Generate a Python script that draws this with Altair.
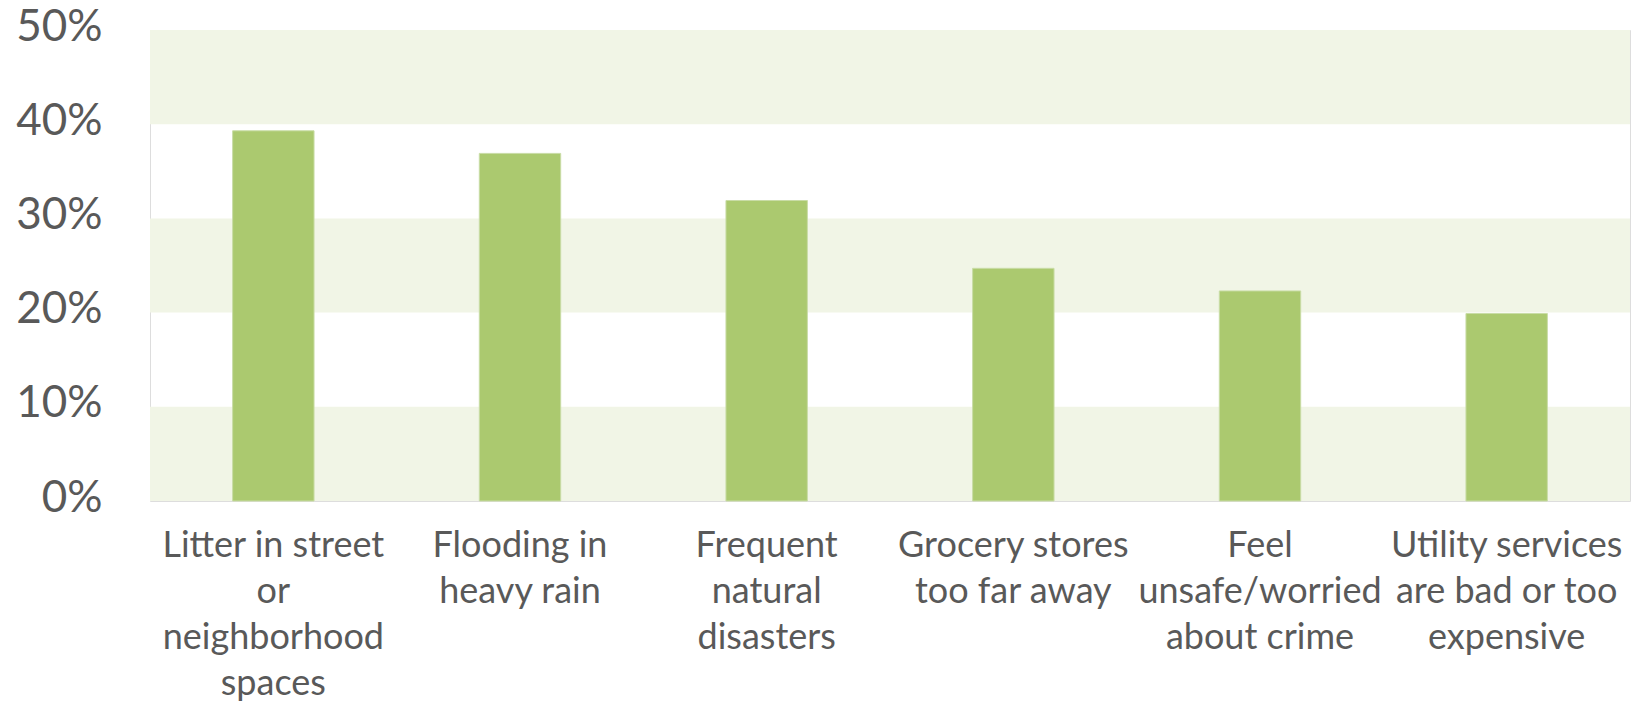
import altair as alt
import pandas as pd

categories = [
    "Litter in street\nor\nneighborhood\nspaces",
    "Flooding in\nheavy rain",
    "Frequent\nnatural\ndisasters",
    "Grocery stores\ntoo far away",
    "Feel\nunsafe/worried\nabout crime",
    "Utility services\nare bad or too\nexpensive",
]
values = [39.3, 36.9, 31.9, 24.7, 22.3, 19.9]

band_lo = [0, 20, 40]
band_hi = [10, 30, 50]

df = pd.DataFrame({"cat": categories, "val": values})
bands = pd.DataFrame({"lo": band_lo, "hi": band_hi})

TEXT = "#595959"
FONT = "Lato"

yscale = alt.Scale(domain=[0, 50], nice=False)

band_layer = alt.Chart(bands).mark_rect(color="#F1F5E6").encode(
    x=alt.value(0),
    x2=alt.value("width"),
    y=alt.Y("lo:Q", scale=yscale),
    y2="hi:Q",
)

bars = alt.Chart(df).mark_bar(color="#ABC96F", stroke="#C9DCA6", strokeWidth=1).encode(
    x=alt.X(
        "cat:N",
        sort=categories,
        scale=alt.Scale(paddingInner=0.67, paddingOuter=0.335),
        axis=alt.Axis(
            title=None,
            labelAngle=0,
            labelExpr="split(datum.value, '\\n')",
            labelFont=FONT,
            labelFontSize=36,
            labelColor=TEXT,
            labelLineHeight=46,
            labelPadding=27,
            labelBaseline="top",
            labelOverlap=False,
            labelLimit=400,
            ticks=False,
            domain=False,
            grid=False,
        ),
    ),
    y=alt.Y(
        "val:Q",
        scale=yscale,
        axis=alt.Axis(
            title=None,
            values=[0, 10, 20, 30, 40, 50],
            labelExpr="datum.value + '%'",
            labelFont=FONT,
            labelFontSize=44,
            labelColor=TEXT,
            labelPadding=48,
            labelOffset=-3,
            ticks=False,
            domain=False,
            grid=False,
        ),
    ),
)

chart = (
    alt.layer(band_layer, bars)
    .properties(
        width=1480,
        height=471,
        autosize=alt.AutoSizeParams(type="none"),
        padding={"left": 142, "top": 22, "right": 2, "bottom": 215},
    )
    .configure_view(stroke=None, strokeWidth=0)
    .configure(background="white")
)

chart.save("out.html", embed_options={"renderer": "svg", "actions": False})
